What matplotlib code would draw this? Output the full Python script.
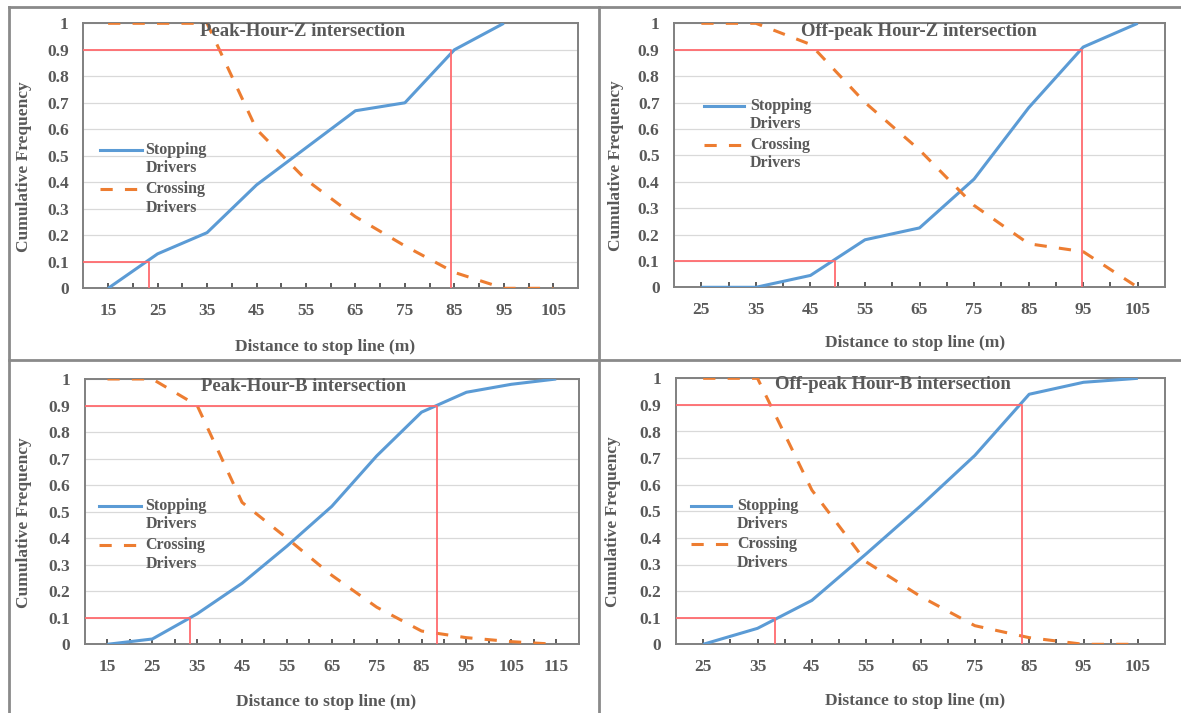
import matplotlib
matplotlib.use("Agg")
import matplotlib.pyplot as plt
from matplotlib.lines import Line2D

W, H = 1181, 713

# Peak-Hour-Z intersection
dist_pz = [15, 25, 35, 45, 55, 65, 75, 85, 95, 105]
stop_pz = [0.0, 0.13, 0.21, 0.39, 0.53, 0.67, 0.70, 0.90, 1.0]
cross_pz = [1.0, 1.0, 1.0, 0.60, 0.41, 0.27, 0.16, 0.06, 0.0, 0.0]
p90_pz, p10_pz = 84.3, 23.3

# Off-peak Hour-Z intersection
dist_oz = [25, 35, 45, 55, 65, 75, 85, 95, 105]
stop_oz = [0.0, 0.0, 0.045, 0.18, 0.225, 0.41, 0.68, 0.91, 1.0]
cross_oz = [1.0, 1.0, 0.92, 0.70, 0.52, 0.31, 0.165, 0.135, 0.0]
p90_oz, p10_oz = 94.8, 49.5

# Peak-Hour-B intersection
dist_pb = [15, 25, 35, 45, 55, 65, 75, 85, 95, 105, 115]
stop_pb = [0.0, 0.02, 0.115, 0.23, 0.37, 0.52, 0.71, 0.875, 0.95, 0.98, 1.0]
cross_pb = [1.0, 1.0, 0.90, 0.535, 0.40, 0.26, 0.14, 0.05, 0.025, 0.01, 0.0]
p90_pb, p10_pb = 88.5, 33.4

# Off-peak Hour-B intersection
dist_ob = [25, 35, 45, 55, 65, 75, 85, 95, 105]
stop_ob = [0.0, 0.06, 0.165, 0.34, 0.52, 0.71, 0.94, 0.985, 1.0]
cross_ob = [1.0, 1.0, 0.58, 0.31, 0.18, 0.07, 0.025, 0.0, 0.0]
p90_ob, p10_ob = 83.6, 38.3

y_ticks = [i / 10 for i in range(11)]
y_labels = ["0"] + [f"{v:.1f}" for v in y_ticks[1:-1]] + ["1"]

BLUE = "#5B9BD5"
ORANGE = "#ED7D31"
RED = "#FF6B6E"
TXT = "#595959"
FRAME = "#808080"
FONT = "Liberation Serif"

plt.rcParams["font.family"] = [FONT, "DejaVu Serif"]
plt.rcParams["font.weight"] = "bold"

panels = [
    dict(rect=(83.4, 23.3, 578, 288.3), xlim=(10, 110), dist=dist_pz, stop=stop_pz,
         cross=cross_pz, p90=p90_pz, p10=p10_pz, title="Peak-Hour-Z intersection",
         title_xy=(0.443, 0.968), leg_x=(0.033, 0.118, 0.125), leg_y=(0.522, 0.374),
         ylab_x=-0.120, xlab_xy=(0.489, -0.220)),
    dict(rect=(674.1, 23.3, 1165, 287.3), xlim=(20, 110), dist=dist_oz, stop=stop_oz,
         cross=cross_oz, p90=p90_oz, p10=p10_oz, title="Off-peak Hour-Z intersection",
         title_xy=(0.499, 0.968), leg_x=(0.060, 0.143, 0.155), leg_y=(0.687, 0.539),
         ylab_x=-0.118, xlab_xy=(0.491, -0.212)),
    dict(rect=(85, 379, 578.6, 644.3), xlim=(10, 120), dist=dist_pb, stop=stop_pb,
         cross=cross_pb, p90=p90_pb, p10=p10_pb, title="Peak-Hour-B intersection",
         title_xy=(0.442, 0.971), leg_x=(0.029, 0.114, 0.122), leg_y=(0.522, 0.374),
         ylab_x=-0.124, xlab_xy=(0.489, -0.216)),
    dict(rect=(676, 378.3, 1165, 644.3), xlim=(20, 110), dist=dist_ob, stop=stop_ob,
         cross=cross_ob, p90=p90_ob, p10=p10_ob, title="Off-peak Hour-B intersection",
         title_xy=(0.443, 0.975), leg_x=(0.030, 0.113, 0.125), leg_y=(0.521, 0.376),
         ylab_x=-0.129, xlab_xy=(0.489, -0.212)),
]

fig = plt.figure(figsize=(W / 100, H / 100), dpi=100)


def px_rect(l, t, r, b):
    return [l / W, 1 - b / H, (r - l) / W, (b - t) / H]


for p in panels:
    ax = fig.add_axes(px_rect(*p["rect"]))
    x0, x1 = p["xlim"]
    dist = p["dist"]

    ax.set_xlim(x0, x1)
    ax.set_ylim(0, 1)

    # grid + frame
    ax.set_yticks(y_ticks)
    ax.set_yticklabels(y_labels)
    ax.yaxis.grid(True, color="#D9D9D9", lw=0.9, zorder=0)
    ax.set_axisbelow(True)
    for s in ax.spines.values():
        s.set_color(FRAME)
        s.set_linewidth(1.4)

    major = list(range(x0 + 5, x1, 10))
    minor = list(range(x0 + 10, x1, 10))
    ax.set_xticks(major)
    ax.set_xticks(minor, minor=True)
    ax.set_xticklabels([str(v) for v in major])
    ax.tick_params(axis="x", which="both", direction="in", length=3.5, width=1.2,
                   color="#404040", pad=10.5, labelsize=12.5, labelcolor=TXT)
    ax.tick_params(axis="y", length=0, pad=10.5, labelsize=12.5, labelcolor=TXT)

    # percentile guide lines
    ax.plot([x0, p["p90"], p["p90"]], [0.9, 0.9, 0], color=RED, lw=1.3, zorder=4)
    ax.plot([x0, p["p10"], p["p10"]], [0.1, 0.1, 0], color=RED, lw=1.3, zorder=4)

    ax.plot(dist[:len(p["stop"])], p["stop"], color=BLUE, lw=2.2, zorder=3,
            solid_capstyle="butt")
    ax.plot(dist[:len(p["cross"])], p["cross"], color=ORANGE, lw=2.2, zorder=3,
            linestyle=(0, (4, 4)), dash_capstyle="butt")

    ax.text(*p["title_xy"], p["title"], transform=ax.transAxes, ha="center",
            va="center", fontsize=13.5, color=TXT, fontweight="bold")

    # legend
    hx0, hx1, tx = p["leg_x"]
    for (yy, label, color, ls) in [
        (p["leg_y"][0], "Stopping\nDrivers", BLUE, "-"),
        (p["leg_y"][1], "Crossing\nDrivers", ORANGE, (0, (4, 4))),
    ]:
        ax.add_line(Line2D([hx0, hx1], [yy, yy], transform=ax.transAxes, color=color,
                           lw=2.2, linestyle=ls, dash_capstyle="butt", clip_on=False))
        ax.text(tx, yy + 0.030, label, transform=ax.transAxes, ha="left", va="top",
                fontsize=11.5, color=TXT, linespacing=1.2, fontweight="bold")

    ax.set_ylabel("Cumulative Frequency", fontsize=12.5, color=TXT, fontweight="bold")
    ax.yaxis.set_label_coords(p["ylab_x"], 0.46)
    ax.yaxis.label.set_verticalalignment("center")
    ax.set_xlabel("Distance to stop line (m)", fontsize=12.5, color=TXT, fontweight="bold")
    ax.xaxis.set_label_coords(*p["xlab_xy"])
    ax.xaxis.label.set_verticalalignment("center")

# borders of the 2x2 grid of pictures
border = dict(color="#8A8A8A", lw=2.0, transform=fig.transFigure)
for (xa, ya, xb, yb) in [(9, 7, W, 7), (9, 360, W, 360), (9, 7, 9, H), (599, 7, 599, H)]:
    fig.add_artist(Line2D([xa / W, xb / W], [1 - ya / H, 1 - yb / H], **border))

fig.savefig("out.png", dpi=100)
